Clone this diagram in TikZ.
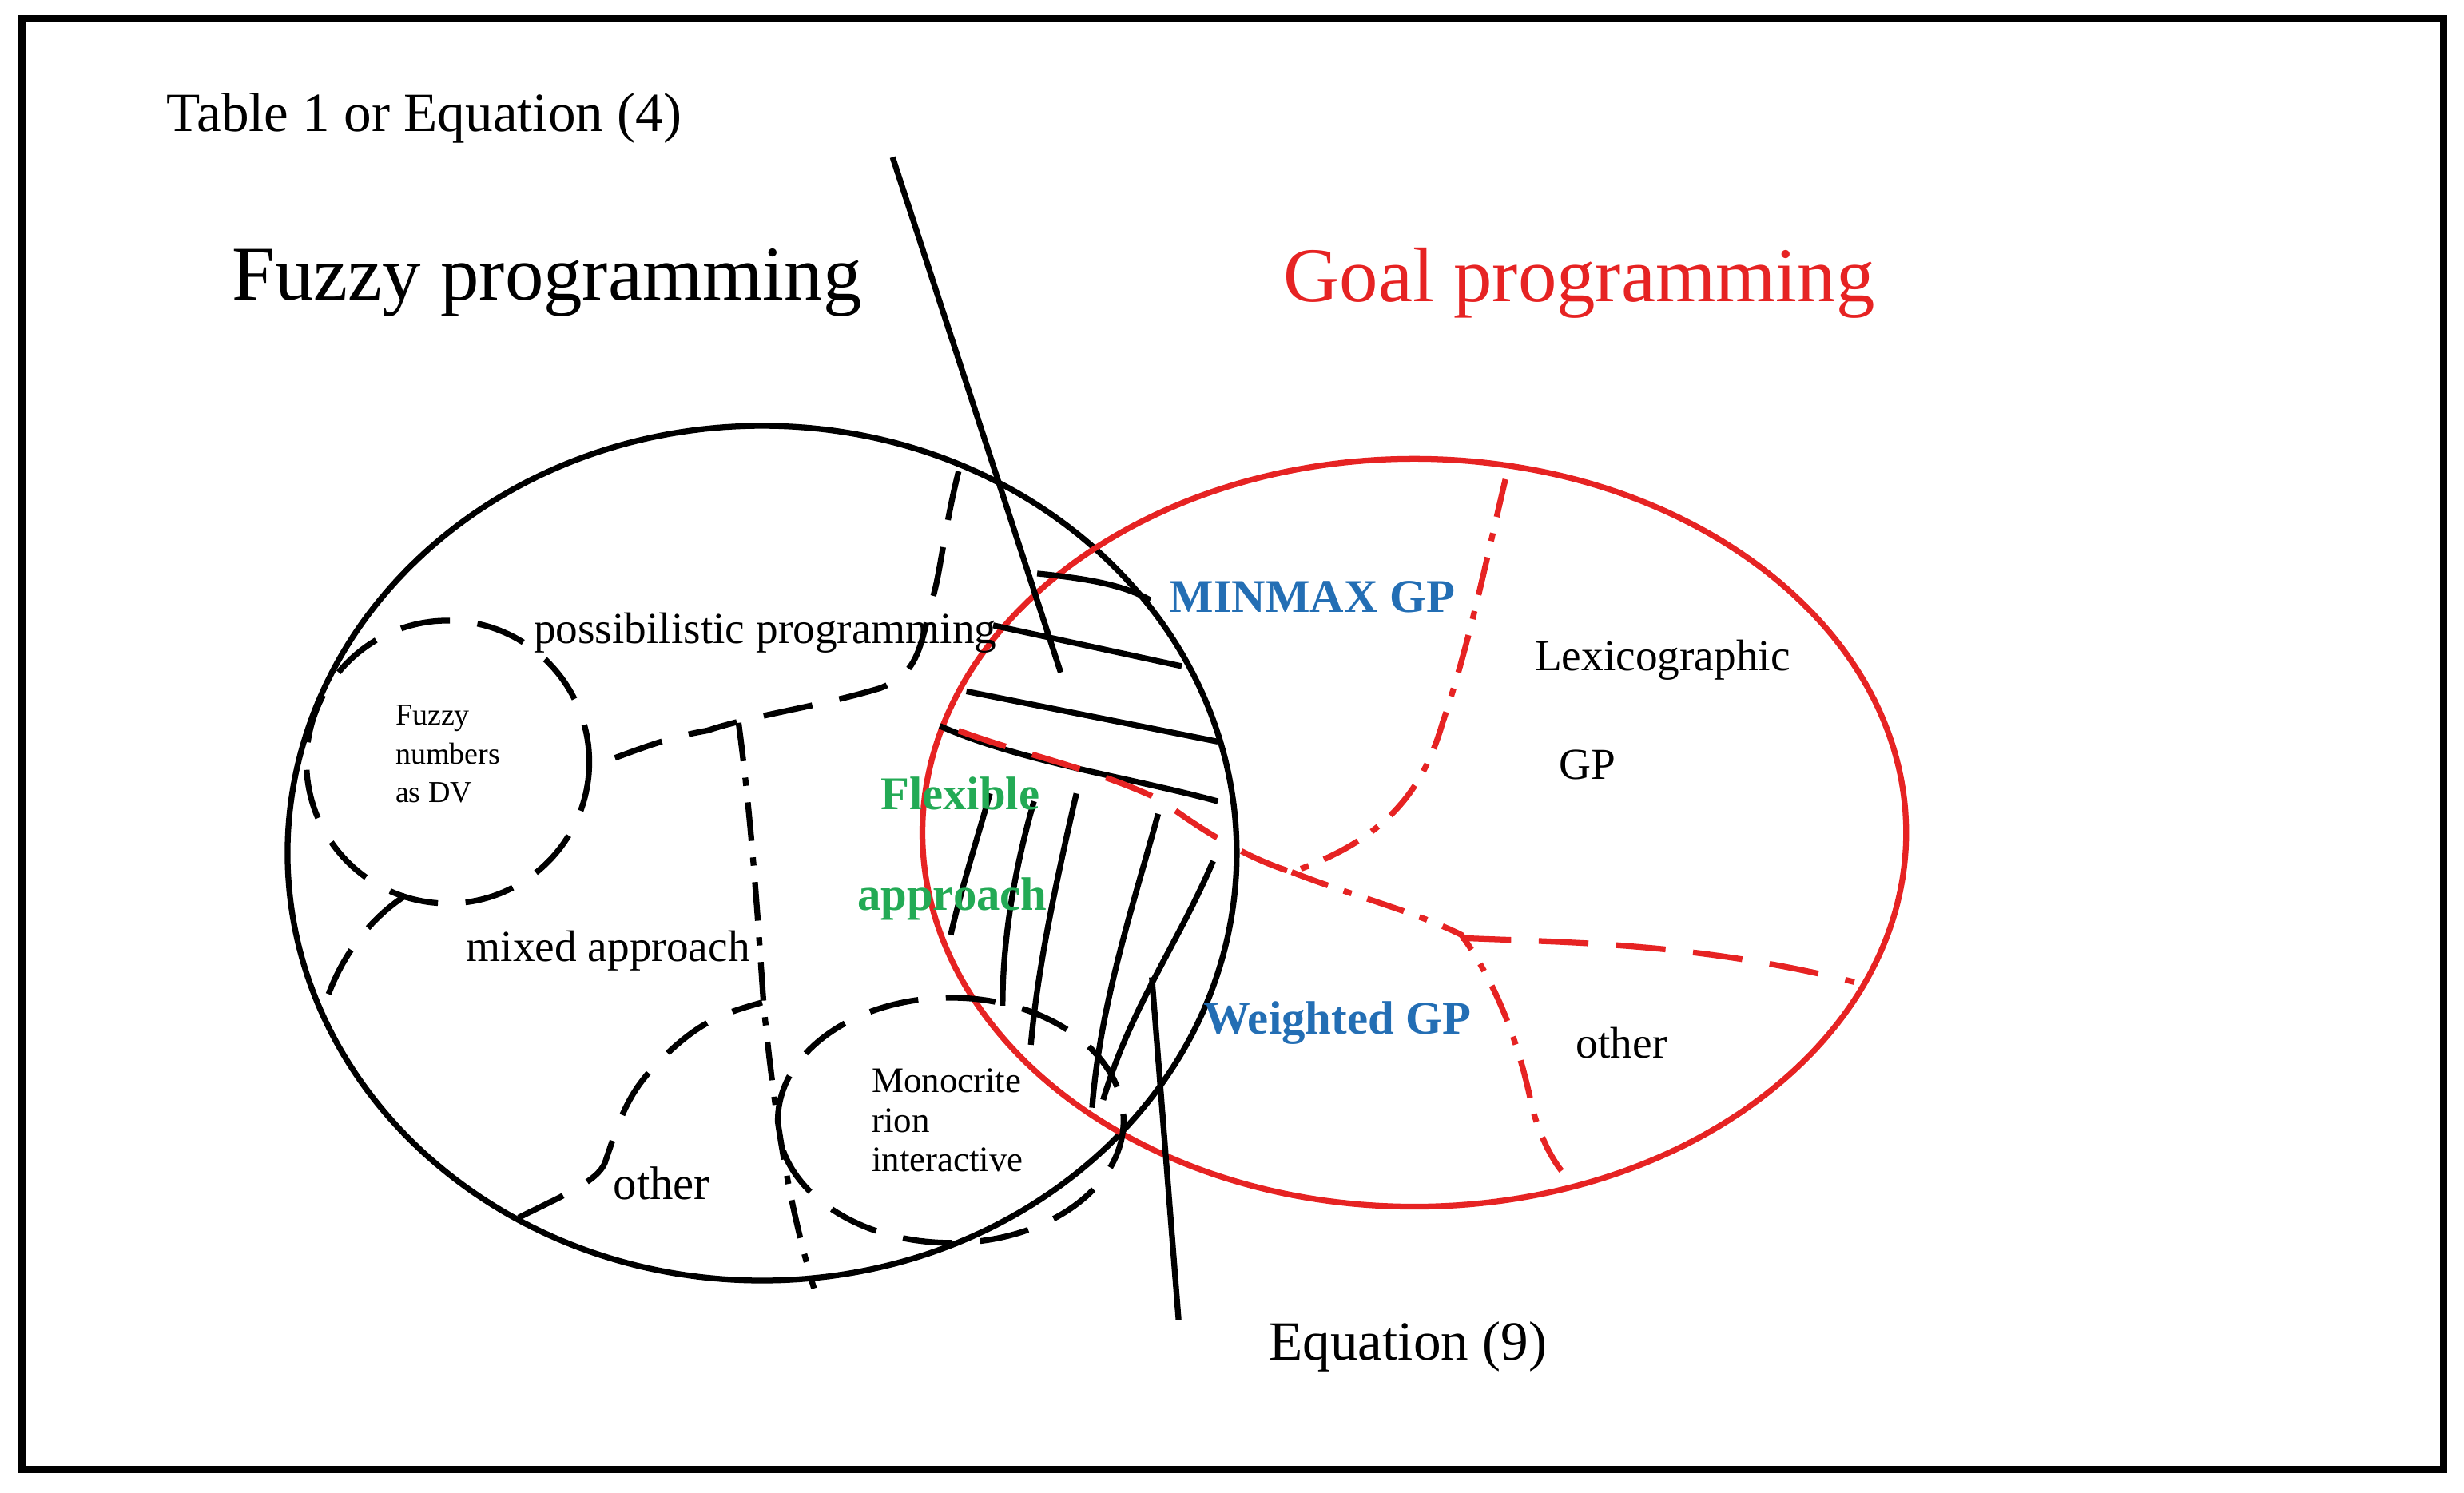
\documentclass[tikz,border=0pt]{standalone}
\usepackage{fontspec}
\setmainfont{Liberation Serif}
\definecolor{gred}{RGB}{230,35,35}
\definecolor{gblue}{RGB}{35,110,180}
\definecolor{ggreen}{RGB}{35,170,85}
\begin{document}
\begin{tikzpicture}[x=0.01cm,y=-0.01cm,line width=1.05pt,
  dsh/.style={dashed,dash pattern=on 9pt off 5pt},
  dd/.style={dash pattern=on 7pt off 3pt on 1.5pt off 3pt},
  lbl/.style={font=\fontsize{8}{9}\selectfont},
  bl/.style={font=\fontsize{8.5}{10}\selectfont\bfseries},
  big/.style={font=\fontsize{14}{16}\selectfont}]
\useasboundingbox (0,0) rectangle (1568,950);
\draw[line width=1.3pt] (14,12) rectangle (1555,935);
% ellipses
\draw (485,543) ellipse [x radius=302,y radius=272];
\draw[gred] (900,530) ellipse [x radius=313,y radius=238];
% left dashed regions
\draw[dsh] (285,485) circle [radius=90];
\draw[dsh] (605,713) ellipse [x radius=110,y radius=78];
\draw[dsh] (610,300) .. controls (600,340) and (598,370) .. (592,385) .. controls (585,420) and (580,430) .. (560,438) .. controls (520,450) and (480,455) .. (450,465) .. controls (420,470) and (400,480) .. (375,488);
\draw[dsh] (258,570) .. controls (235,585) and (215,610) .. (205,645);
\draw[dsh] (330,775) .. controls (360,760) and (380,752) .. (385,740) .. controls (395,710) and (400,695) .. (420,675) .. controls (445,650) and (460,645) .. (485,638);
\draw[dd] (470,460) .. controls (478,520) and (482,580) .. (486,640) .. controls (492,700) and (500,760) .. (518,820);
% hatching
\draw (660,365) .. controls (690,368) and (715,372) .. (732,382);
\draw (632,398) -- (752,424);
\draw (615,440) -- (775,472);
\draw (598,462) .. controls (650,485) and (720,495) .. (775,510);
\draw (605,595) .. controls (612,565) and (620,540) .. (630,505);
\draw (638,640) .. controls (638,600) and (645,555) .. (658,510);
\draw (656,665) .. controls (660,620) and (670,570) .. (685,505);
\draw (695,705) .. controls (700,640) and (720,580) .. (737,518);
\draw (702,700) .. controls (720,640) and (750,600) .. (772,548);
% pointer lines
\draw (568,100) -- (675,428);
\draw (733,622) -- (750,840);
% red boundaries
\draw[gred,dsh] (610,465) .. controls (650,480) and (700,490) .. (740,510) .. controls (760,525) and (790,545) .. (822,555);
\draw[gred,dd] (958,305) .. controls (945,360) and (935,410) .. (918,460) .. controls (905,505) and (880,535) .. (822,555);
\draw[gred,dd] (822,555) .. controls (860,570) and (900,580) .. (930,595) .. controls (955,630) and (968,670) .. (975,705) .. controls (982,730) and (992,745) .. (1000,752);
\draw[gred,dsh] (930,597) .. controls (1000,600) and (1080,600) .. (1180,625);
% texts
\node[font=\fontsize{10}{12}\selectfont] (t1) at (270,75) {Table 1 or Equation (4)};
\node[big] (fp) at (348,180) {Fuzzy programming};
\node[big,text=gred] (gp) at (1005,180) {Goal programming};
\node[bl,text=gblue] (mm) at (835,380) {MINMAX GP};
\node[lbl] (lex) at (1058,420) {Lexicographic};
\node[lbl] (lgp) at (1010,487) {GP};
\node[lbl] (pp) at (487,403) {possibilistic programming};
\node[font=\fontsize{5.5}{7}\selectfont,align=left] (fn) at (285,480) {Fuzzy\\numbers\\as DV};
\node[bl,text=ggreen] (fl) at (611,505) {Flexible};
\node[bl,text=ggreen] (ap) at (606,572) {approach};
\node[lbl] (ma) at (387,605) {mixed approach};
\node[bl,text=gblue] (wg) at (851,651) {Weighted GP};
\node[lbl] (o1) at (1032,664) {other};
\node[font=\fontsize{8.5}{10}\selectfont] (o2) at (421,753) {other};
\node[font=\fontsize{6.5}{7.2}\selectfont,align=left] (mc) at (603,713) {Monocrite\\rion\\interactive};
\node[font=\fontsize{10}{12}\selectfont] (eq) at (896,857) {Equation (9)};
\end{tikzpicture}
\end{document}
